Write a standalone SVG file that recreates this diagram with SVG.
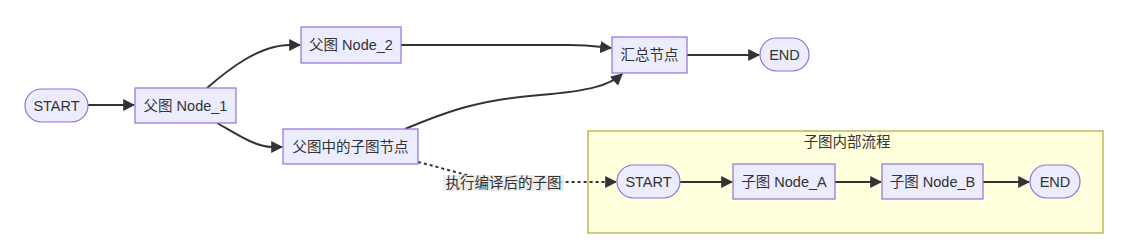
<svg xmlns="http://www.w3.org/2000/svg" width="1132" height="249" viewBox="0 0 1132 249">
<style>
.node rect{fill:#ECECFF;stroke:#9370DB;stroke-width:1.2}
.lbl{font-family:"Liberation Sans","Noto Sans CJK SC",sans-serif;font-size:14.5px;fill:#333;text-anchor:middle;dominant-baseline:central}
.edge{fill:none;stroke:#333;stroke-width:2}
.dot{stroke-dasharray:3 3}
</style>
<defs>
<marker id="arr" viewBox="0 0 10 10" refX="9" refY="5" markerUnits="userSpaceOnUse" markerWidth="12" markerHeight="12" orient="auto">
<path d="M0,0 L10,5 L0,10 z" fill="#333"/>
</marker>
</defs>
<rect width="1132" height="249" fill="#fff"/>
<g id="cluster">
<rect x="588" y="131" width="515" height="102" fill="#ffffde" stroke="#aaaa33" stroke-width="1.2"/>
<text class="lbl" x="847" y="142">子图内部流程</text>
</g>
<g id="connectors">
<path class="edge" d="M88,105 L134,105" marker-end="url(#arr)"/>
<path class="edge" d="M207,88 C230,68 260,45 290,45 L300,45" marker-end="url(#arr)"/>
<path class="edge" d="M217,123 C235,133 255,147 272,147 L282,147" marker-end="url(#arr)"/>
<path class="edge" d="M401,45 L570,45 C590,45 600,47 611,48" marker-end="url(#arr)"/>
<path class="edge" d="M405,129 C450,110 480,100 540,95 C590,91 610,85 622,74" marker-end="url(#arr)"/>
<path class="edge" d="M687,55 L759,55" marker-end="url(#arr)"/>
<path class="edge dot" d="M418,162 C450,170 480,180 503,182 L616,182" marker-end="url(#arr)"/>
<path class="edge" d="M680,182 L732,182" marker-end="url(#arr)"/>
<path class="edge" d="M835,182 L881,182" marker-end="url(#arr)"/>
<path class="edge" d="M983,182 L1029,182" marker-end="url(#arr)"/>
<rect x="443" y="175" width="121" height="16" fill="#e8e8e8" fill-opacity="0.8"/>
<text class="lbl" x="503.5" y="183">执行编译后的子图</text>
</g>
<g id="start" class="node"><rect x="25" y="89" width="63" height="33" rx="16.5"/><text class="lbl" x="56.5" y="105.5">START</text></g>
<g id="node1" class="node"><rect x="135" y="88" width="101" height="35"/><text class="lbl" x="185.5" y="105.5">父图 Node_1</text></g>
<g id="node2" class="node"><rect x="301" y="27" width="100" height="36"/><text class="lbl" x="351" y="45">父图 Node_2</text></g>
<g id="subnode" class="node"><rect x="283" y="129" width="135" height="35"/><text class="lbl" x="350.5" y="146.5">父图中的子图节点</text></g>
<g id="summary" class="node"><rect x="612" y="37" width="75" height="36"/><text class="lbl" x="649.5" y="55">汇总节点</text></g>
<g id="end" class="node"><rect x="760" y="38" width="49" height="33" rx="16.5"/><text class="lbl" x="784.5" y="55">END</text></g>
<g id="sub_start" class="node"><rect x="617" y="165" width="63" height="33" rx="16.5"/><text class="lbl" x="648.5" y="182">START</text></g>
<g id="nodeA" class="node"><rect x="733" y="164" width="102" height="35"/><text class="lbl" x="784" y="182">子图 Node_A</text></g>
<g id="nodeB" class="node"><rect x="882" y="164" width="101" height="35"/><text class="lbl" x="932.5" y="182">子图 Node_B</text></g>
<g id="sub_end" class="node"><rect x="1030" y="165" width="50" height="33" rx="16.5"/><text class="lbl" x="1055" y="182">END</text></g>
</svg>
